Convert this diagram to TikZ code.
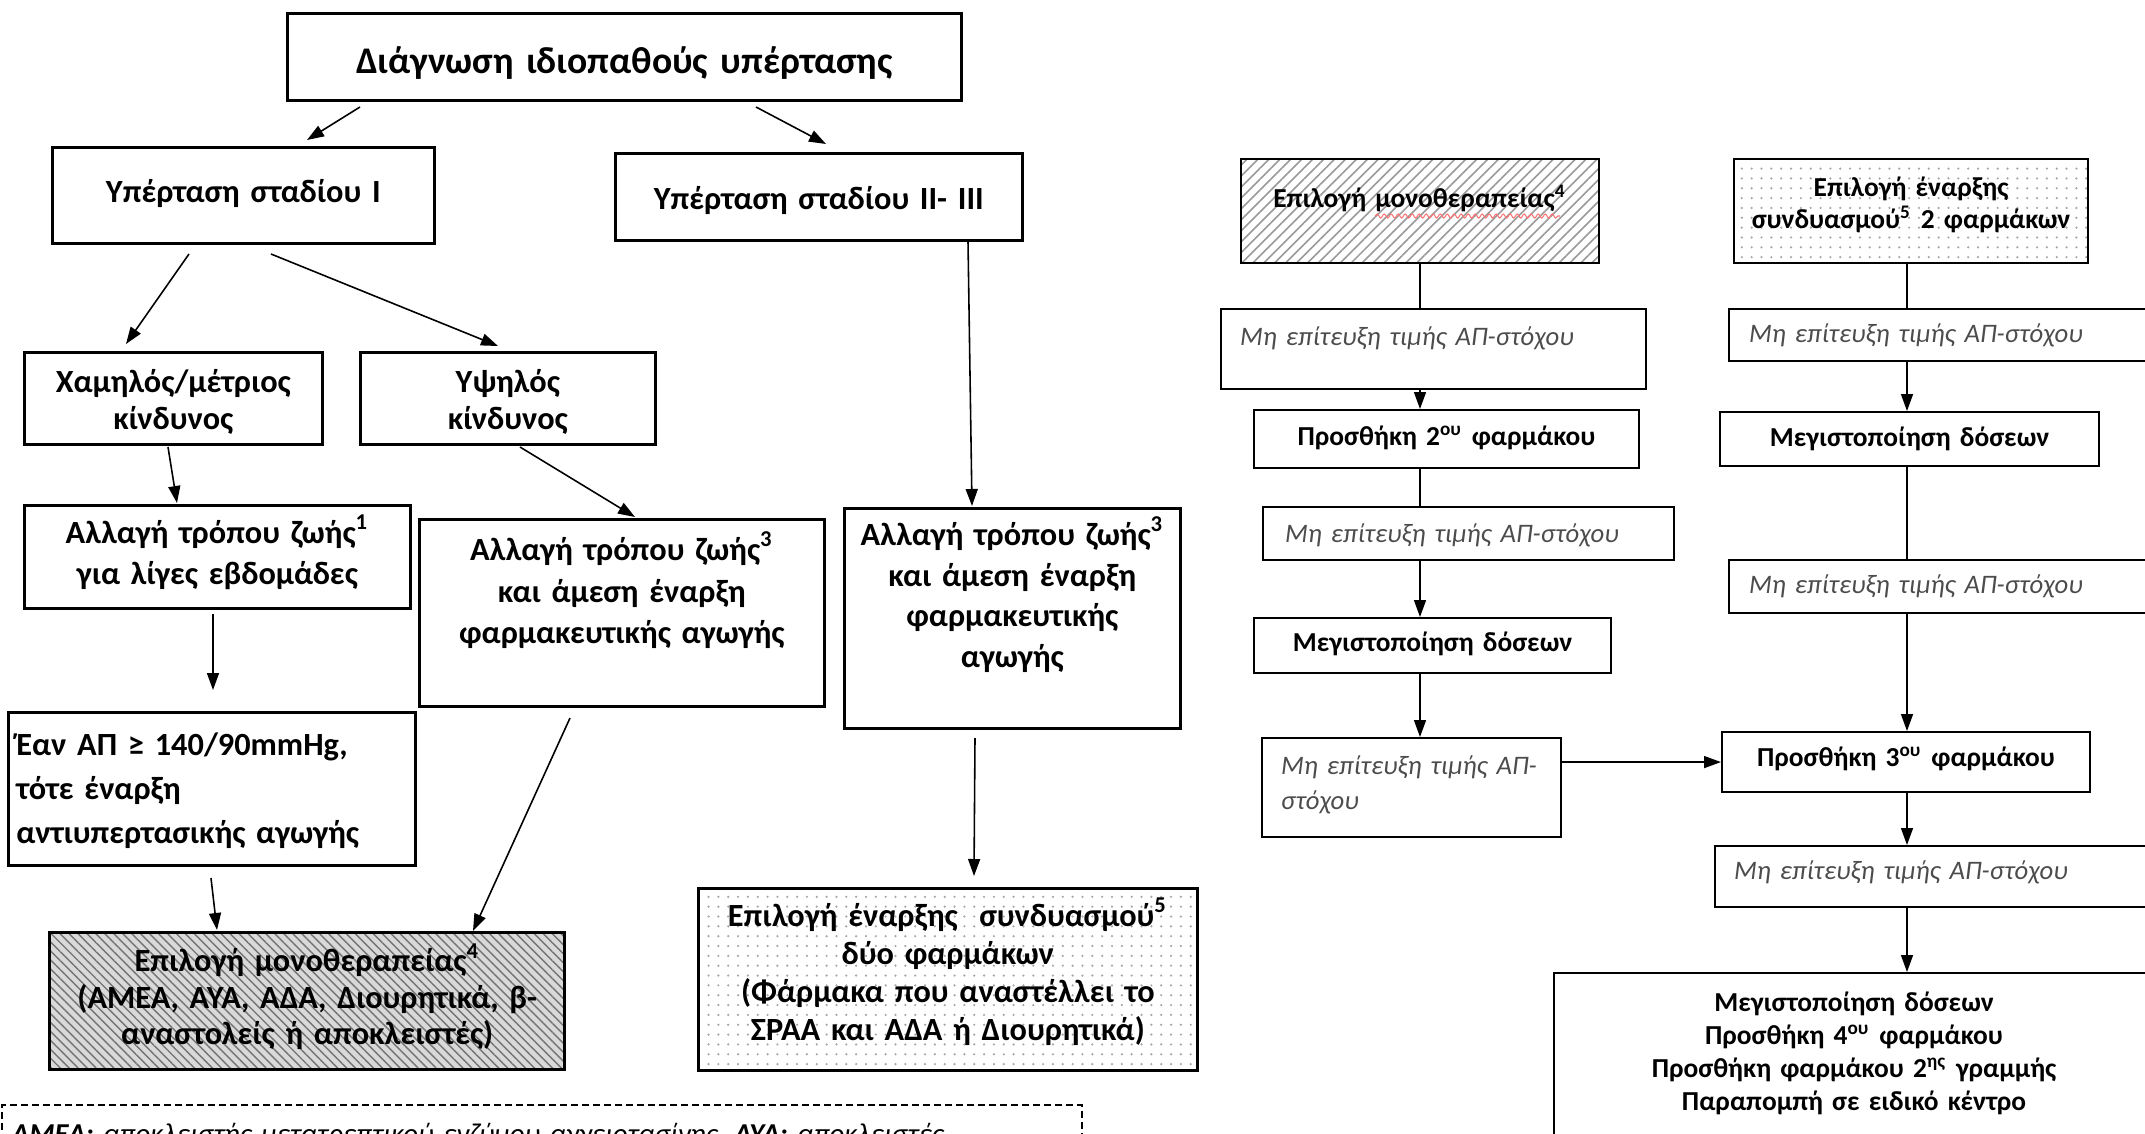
\documentclass[tikz,border=0pt]{standalone}
\usepackage{fontspec}
\setmainfont{Carlito}
\usetikzlibrary{arrows.meta,patterns.meta,decorations.pathmorphing}

\tikzset{
  arr/.style={-{Triangle[length=1.7mm,width=1.2mm]}, line width=0.45pt},
  lnk/.style={line width=0.45pt},
  pbox/.style n args={3}{draw, line width=0.75pt, anchor=north west,
    inner xsep=0pt, inner ysep=0pt, text width=#1, text height=#2,
    text depth=#3, align=center},
  ltitle/.style={font=\fontsize{10.7}{13}\selectfont\bfseries},
  lbold/.style={font=\fontsize{9.2}{#1}\selectfont\bfseries},
  rbold/.style={font=\fontsize{7.8}{#1}\selectfont\bfseries, line width=0.6pt},
  rital/.style={font=\fontsize{7.6}{10}\selectfont\itshape, text=black!70,
    line width=0.6pt, align=left},
  hatchL/.style={preaction={fill=gray!30},
    pattern={Lines[angle=-45,distance=1.8pt,line width=0.4pt]}, pattern color=black!55},
  hatchR/.style={pattern={Lines[angle=45,distance=2.2pt,line width=0.45pt]},
    pattern color=gray!80},
  dotted box/.style={pattern={Dots[distance=2.8pt,radius=0.35pt]}, pattern color=gray!70},
}

\begin{document}
\begin{tikzpicture}[x=0.1mm,y=-0.1mm]
  \useasboundingbox (0,0) rectangle (2145,1133);
  \clip (0,0) rectangle (2145,1133);

  % left chart
  \node[pbox={67.4mm}{6.0mm}{2.7mm}, ltitle] (diag) at (286,12) {Διάγνωση ιδιοπαθούς υπέρτασης};
  \node[pbox={38.2mm}{5.5mm}{4.1mm}, lbold=11pt] (st1) at (51,146) {Υπέρταση σταδίου I};
  \node[pbox={40.7mm}{5.6mm}{3.1mm}, lbold=11pt] (st23) at (614,152) {Υπέρταση σταδίου II- III};
  \node[pbox={29.8mm}{4.0mm}{5.2mm}, lbold=10.5pt] (low) at (23,351) {Χαμηλός/μέτριος\\κίνδυνος};
  \node[pbox={29.5mm}{4.0mm}{5.2mm}, lbold=10.5pt] (high) at (359,351) {Υψηλός\\κίνδυνος};
  \node[pbox={38.6mm}{3.8mm}{6.5mm}, lbold=11.6pt] (life1) at (23,504)
    {Αλλαγή τρόπου ζωής\textsuperscript{1}\\για λίγες εβδομάδες};
  \node[pbox={40.5mm}{4.1mm}{14.6mm}, lbold=11.9pt] (life3a) at (418,518)
    {Αλλαγή τρόπου ζωής\textsuperscript{3}\\και άμεση έναρξη\\φαρμακευτικής αγωγής};
  \node[pbox={33.6mm}{3.7mm}{18.3mm}, lbold=11.6pt] (life3b) at (843,507)
    {Αλλαγή τρόπου ζωής\textsuperscript{3}\\και άμεση έναρξη\\φαρμακευτικής\\αγωγής};
  \node[pbox={39.1mm}{4.3mm}{11.0mm}, lbold=12.5pt, inner xsep=0.8mm, align=left] (ifbp) at (7,711)
    {Έαν ΑΠ ≥ 140/90mmHg,\\τότε έναρξη\\αντιυπερτασικής αγωγής};
  \node[pbox={51.5mm}{3.9mm}{9.8mm}, lbold=10.4pt, hatchL] (monoL) at (49,932)
    {Επιλογή μονοθεραπείας\textsuperscript{4}\\(ΑΜΕΑ, ΑΥΑ, ΑΔΑ, Διουρητικά, β-\\αναστολείς ή αποκλειστές)};
  \node[pbox={49.9mm}{3.8mm}{14.4mm}, lbold=10.8pt, dotted box] (combL) at (697,887)
    {Επιλογή έναρξης\ \ συνδυασμού\textsuperscript{5}\\δύο φαρμάκων\\(Φάρμακα που αναστέλλει το\\ΣΡΑΑ και ΑΔΑ ή Διουρητικά)};
  \node[pbox={106mm}{3.9mm}{6.0mm}, draw, line width=0.5pt, dash pattern=on 0.7mm off 0.4mm,
    inner xsep=1.0mm, align=left, font=\fontsize{8.2}{10}\selectfont\itshape] (abbr) at (1,1104)
    {\textbf{ΑΜΕΑ:} αποκλειστής μετατρεπτικού ενζύμου αγγειοτασίνης, \textbf{ΑΥΑ:} αποκλειστές};

  \coordinate (d1s) at (360,107);  \coordinate (d1e) at (307,140);
  \coordinate (d2s) at (756,107);  \coordinate (d2e) at (826,144);
  \coordinate (s1s) at (189,254);  \coordinate (s1e) at (126,344);
  \coordinate (s2s) at (271,254);  \coordinate (s2e) at (498,346);
  \coordinate (lws) at (168,447);  \coordinate (lwe) at (177,503);
  \coordinate (hgs) at (520,447);  \coordinate (hge) at (635,517);
  \coordinate (s3s) at (968,239);  \coordinate (s3e) at (972,506);
  \coordinate (l1s) at (213,614);  \coordinate (l1e) at (213,690);
  \coordinate (ifs) at (211,878);  \coordinate (ife) at (217,930);
  \coordinate (l3s) at (570,718);  \coordinate (l3e) at (473,931);
  \coordinate (l4s) at (975,738);  \coordinate (l4e) at (974,876);
  \draw[arr] (d1s) -- (d1e);
  \draw[arr] (d2s) -- (d2e);
  \draw[arr] (s1s) -- (s1e);
  \draw[arr] (s2s) -- (s2e);
  \draw[arr] (lws) -- (lwe);
  \draw[arr] (hgs) -- (hge);
  \draw[arr] (st23.south -| s3s) -- (s3e);
  \draw[arr] (l1s) -- (l1e);
  \draw[arr] (ifs) -- (ife);
  \draw[arr] (l3s) -- (l3e);
  \draw[arr] (l4s) -- (l4e);

  % right chart
  \node[pbox={35.8mm}{4.9mm}{5.5mm}, rbold=10pt, hatchR] (monoR) at (1240,158)
    {Επιλογή μονοθεραπείας\textsuperscript{4}};
  \draw[red!55, line width=0.3pt, decorate,
    decoration={snake, amplitude=0.2mm, segment length=0.7mm}] (1375,216) -- (1560,216);
  \node[pbox={35.4mm}{3.7mm}{6.7mm}, rbold=9.1pt, dotted box] (combR) at (1733,158)
    {Επιλογή έναρξης\\συνδυασμού\textsuperscript{5} 2 φαρμάκων};
  \node[pbox={38.7mm}{3.6mm}{4.4mm}, rital, inner xsep=1.9mm] (fail1) at (1220,308)
    {Μη επίτευξη τιμής ΑΠ-στόχου};
  \node[pbox={38.5mm}{3.5mm}{2.3mm}, rbold=10pt] (add2) at (1253,409)
    {Προσθήκη 2\textsuperscript{ου} φαρμάκου};
  \node[pbox={36.7mm}{3.5mm}{1.8mm}, rital, inner xsep=2.2mm] (fail2) at (1262,506)
    {Μη επίτευξη τιμής ΑΠ-στόχου};
  \node[pbox={35.7mm}{3.3mm}{2.2mm}, rbold=10pt] (maxA) at (1253,617)
    {Μεγιστοποίηση δόσεων};
  \node[pbox={27.9mm}{3.6mm}{6.3mm}, rital, inner xsep=1.0mm] (fail3) at (1261,737)
    {\hspace*{0.9mm}Μη επίτευξη τιμής ΑΠ-\\\hspace*{0.9mm}στόχου};
  \node[pbox={40.0mm}{3.3mm}{1.9mm}, rital, inner xsep=2.0mm] (fail4) at (1728,308)
    {Μη επίτευξη τιμής ΑΠ-στόχου};
  \node[pbox={37.9mm}{3.4mm}{2.0mm}, rbold=10pt] (maxB) at (1719,411)
    {Μεγιστοποίηση δόσεων};
  \node[pbox={43.0mm}{3.3mm}{2.0mm}, rital, inner xsep=2.0mm] (fail5) at (1728,559)
    {Μη επίτευξη τιμής ΑΠ-στόχου};
  \node[pbox={36.8mm}{3.4mm}{2.6mm}, rbold=10pt] (add3) at (1721,731)
    {Προσθήκη 3\textsuperscript{ου} φαρμάκου};
  \node[pbox={44.2mm}{3.3mm}{2.8mm}, rital, inner xsep=1.9mm] (fail6) at (1714,845)
    {Μη επίτευξη τιμής ΑΠ-στόχου};
  \node[pbox={60.0mm}{3.8mm}{19mm}, rbold=9.4pt] (last) at (1553,972)
    {Μεγιστοποίηση δόσεων\\Προσθήκη 4\textsuperscript{ου} φαρμάκου\\Προσθήκη φαρμάκου 2\textsuperscript{ης} γραμμής\\Παραπομπή σε ειδικό κέντρο};

  \coordinate (colA) at (1420,0);
  \coordinate (colB) at (1907,0);
  \draw[lnk] (monoR.south -| colA) -- (fail1.north -| colA);
  \draw[arr] (fail1.south -| colA) -- (add2.north -| colA);
  \draw[lnk] (add2.south -| colA) -- (fail2.north -| colA);
  \draw[arr] (fail2.south -| colA) -- (maxA.north -| colA);
  \draw[arr] (maxA.south -| colA) -- (fail3.north -| colA);
  \draw[arr] (fail3.east |- add3.west) -- (add3.west);
  \draw[lnk] (combR.south -| colB) -- (fail4.north -| colB);
  \draw[arr] (fail4.south -| colB) -- (maxB.north -| colB);
  \draw[lnk] (maxB.south -| colB) -- (fail5.north -| colB);
  \draw[arr] (fail5.south -| colB) -- (add3.north -| colB);
  \draw[arr] (add3.south -| colB) -- (fail6.north -| colB);
  \draw[arr] (fail6.south -| colB) -- (last.north -| colB);
\end{tikzpicture}
\end{document}
